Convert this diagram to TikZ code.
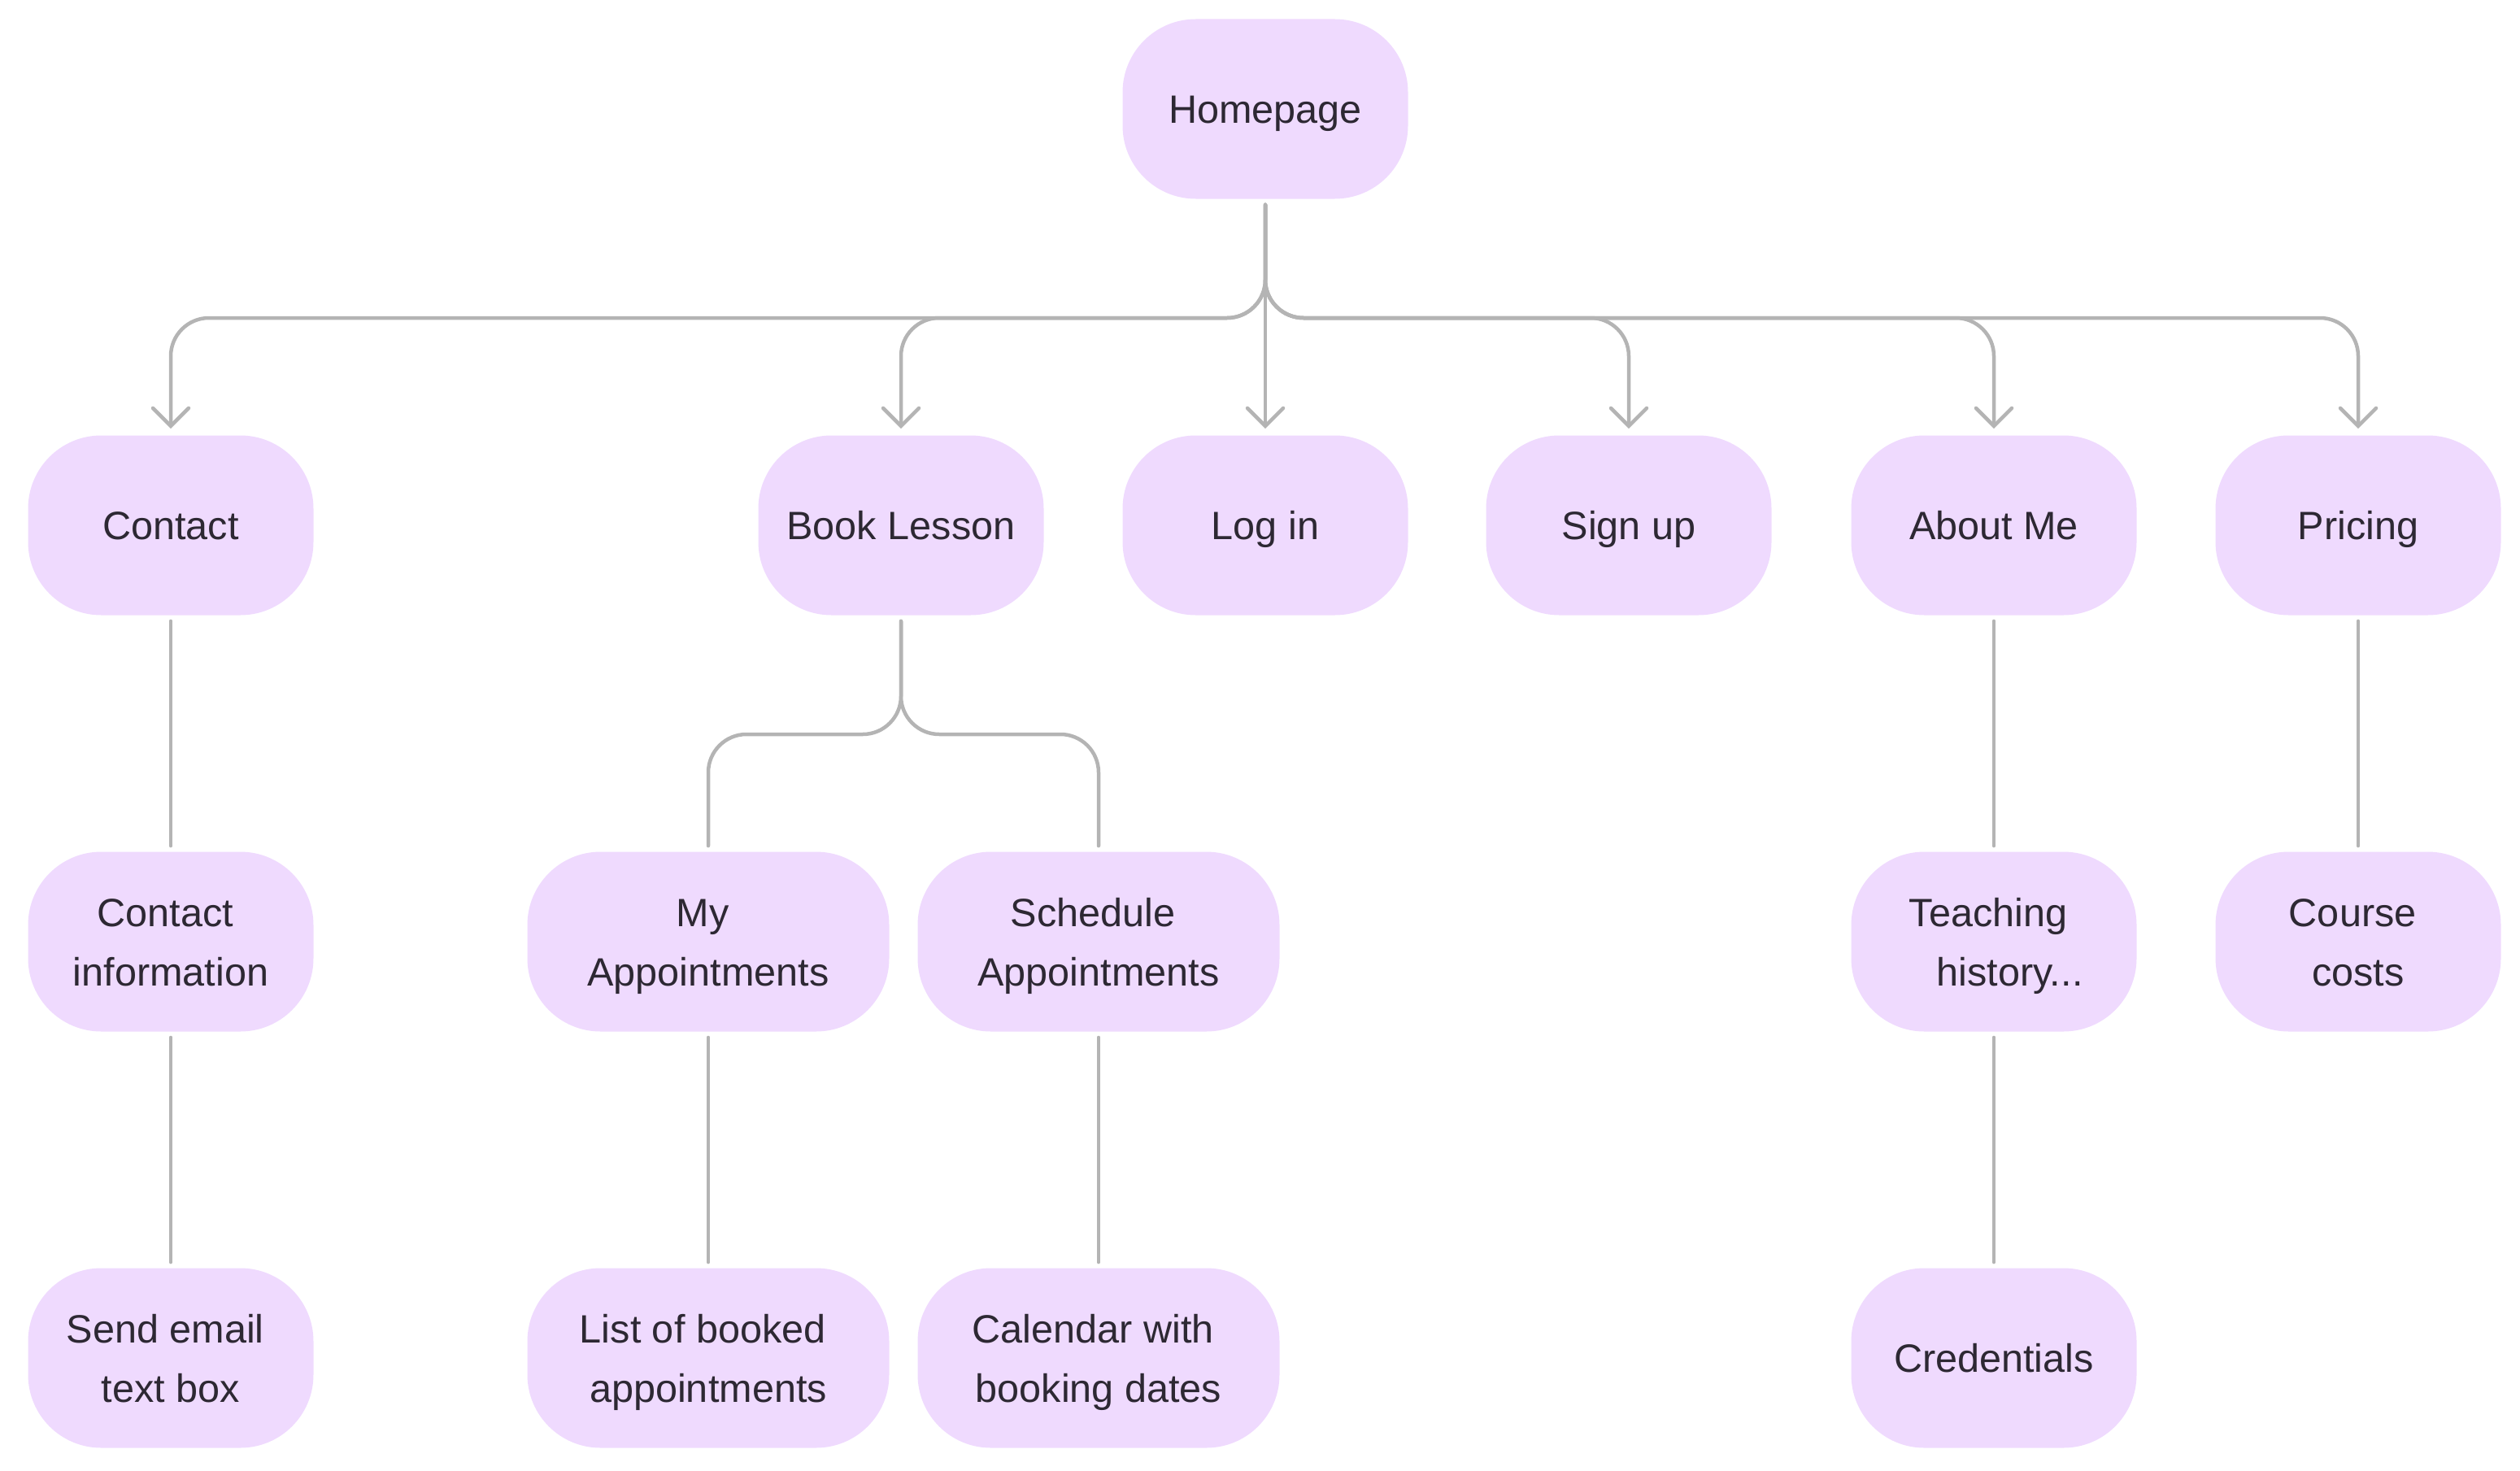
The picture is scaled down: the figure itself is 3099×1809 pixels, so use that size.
\documentclass[tikz,border=0pt]{standalone}
\usepackage{fontspec}
\setmainfont{Liberation Sans}
\usetikzlibrary{arrows.meta}
\definecolor{boxfill}{HTML}{EFDAFE}
\definecolor{linegray}{HTML}{B4B4B4}
\definecolor{txt}{HTML}{2D2833}
\newcommand{\tsp}{\kern0.28em}
\newcommand{\boxstrut}{\rule{0pt}{23.4pt}\rule[-6pt]{0pt}{6pt}}
\newcommand{\topstrut}{\rule{0pt}{60.4pt}}
\begin{document}
\begin{tikzpicture}[x=0.5pt,y=-0.5pt,
  box/.style={fill=boxfill, rounded corners=45pt, minimum width=175.5pt, minimum height=110.5pt, align=center, text=txt, font=\fontsize{24.3pt}{36.5pt}\selectfont, inner sep=0pt,
    execute at begin node=\boxstrut, execute at end node=\boxstrut},
  twoline/.style={execute at begin node=\topstrut},
  widebox/.style={box, minimum width=222.5pt},
  conn/.style={draw=linegray, line width=2.25pt, line cap=round, rounded corners=23.5pt, shorten <=3.5pt, shorten >=3.5pt},
  arr/.style={conn, -{Straight Barb[length=11pt,width=22pt,line cap=round]}, shorten >=4pt}
]
\useasboundingbox (0,0) rectangle (3099,1809);
\node[box] (home) at (1556,134) {Homepage};
\node[box] (contact) at (210,646) {Contact};
\node[box] (book) at (1108,646) {Book Lesson};
\node[box] (login) at (1556,646) {Log in};
\node[box] (signup) at (2003,646) {Sign up};
\node[box] (about) at (2452,646) {About Me};
\node[box] (pricing) at (2900,646) {Pricing};
\node[box,twoline] (cinfo) at (210,1158) {Contact\tsp\\information};
\node[widebox,twoline] (myapp) at (871,1158) {My\tsp\\Appointments};
\node[widebox,twoline] (sched) at (1351,1158) {Schedule\tsp\\Appointments};
\node[box,twoline] (teach) at (2452,1158) {Teaching\tsp\\\kern0.8em history...};
\node[box,twoline] (course) at (2900,1158) {Course\tsp\\costs};
\node[box,twoline] (email) at (210,1670) {Send email\tsp\\text box};
\node[widebox,twoline] (list) at (871,1670) {List of booked\tsp\\appointments};
\node[widebox,twoline] (cal) at (1351,1670) {Calendar with\tsp\\booking dates};
\node[box] (cred) at (2452,1670) {Credentials};
\coordinate (busA) at (0,391);
\coordinate (busB) at (0,903);
\foreach \nm in {contact,book,signup,about,pricing}
  \draw[arr] (home.south) -- (home.south |- busA) -| (\nm.north);
\draw[arr] (home.south) -- (login.north);
\draw[conn] (book.south) -- (book.south |- busB) -| (myapp.north);
\draw[conn] (book.south) -- (book.south |- busB) -| (sched.north);
\draw[conn] (contact.south) -- (cinfo.north);
\draw[conn] (cinfo.south) -- (email.north);
\draw[conn] (myapp.south) -- (list.north);
\draw[conn] (sched.south) -- (cal.north);
\draw[conn] (about.south) -- (teach.north);
\draw[conn] (teach.south) -- (cred.north);
\draw[conn] (pricing.south) -- (course.north);
\end{tikzpicture}
\end{document}
